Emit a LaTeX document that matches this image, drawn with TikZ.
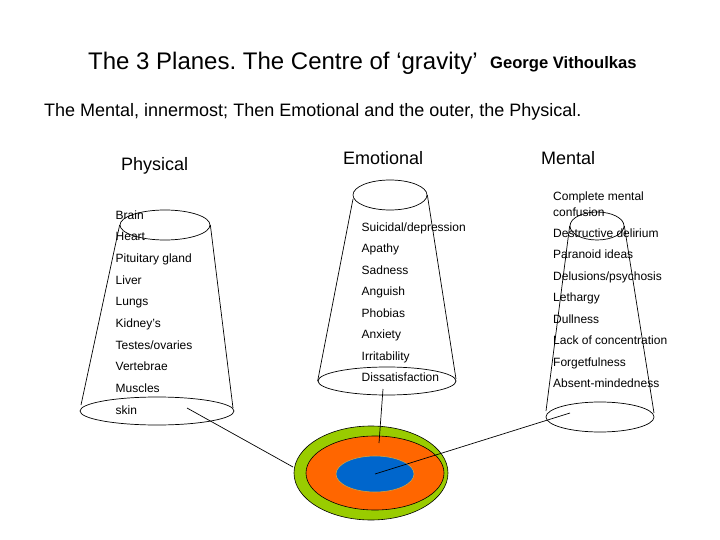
\documentclass[tikz,border=0pt]{standalone}
\usepackage{fontspec}
\setmainfont{Liberation Sans}
\usetikzlibrary{shapes.geometric}
\definecolor{ringgreen}{RGB}{153,204,0}
\definecolor{ringorange}{RGB}{255,102,0}
\definecolor{ringblue}{RGB}{0,102,204}
\definecolor{blueedge}{RGB}{214,160,60}
\frenchspacing
\begin{document}
\begin{tikzpicture}[x=1pt,y=-1pt,
  item/.style={anchor=base west,inner sep=0pt,font=\fontsize{12}{14}\selectfont},
  head/.style={anchor=base west,inner sep=0pt,font=\fontsize{18}{22}\selectfont},
  rim/.style={draw,ellipse,inner sep=0pt,line width=0.7pt},
  side/.style={line width=0.7pt},
  link/.style={line width=0.7pt}]
\useasboundingbox (0,0) rectangle (720,540);

% titles
\node[anchor=base west,inner sep=0pt,font=\fontsize{24}{28}\selectfont] (title) at (88,70) {The 3 Planes. The Centre of ‘gravity’};
\node[anchor=base west,inner sep=0pt,font=\bfseries\fontsize{16.6}{19}\selectfont] (author) at (490,69) {George Vithoulkas};
\node[anchor=base west,inner sep=0pt,font=\fontsize{18}{22}\selectfont] (sub) at (44,117) {The Mental, innermost; Then Emotional and the outer, the Physical.};

\node[head] (hphys) at (121,171) {Physical};
\node[head] (hemo) at (343,165) {Emotional};
\node[head] (hment) at (541,165) {Mental};

% centre rings
\node[ellipse,draw,fill=ringgreen,line width=0.6pt,inner sep=0pt,minimum width=154pt,minimum height=94pt] (green) at (371,473) {};
\node[ellipse,draw,fill=ringorange,line width=0.6pt,inner sep=0pt,minimum width=138pt,minimum height=74pt] (orange) at (375,473) {};
\node[ellipse,draw=blueedge,fill=ringblue,line width=0.6pt,inner sep=0pt,minimum width=78pt,minimum height=36pt] (blue) at (375,474) {};

% Physical cone
\node[rim,minimum width=90pt,minimum height=30pt] (ptop) at (165,225) {};
\node[rim,minimum width=154pt,minimum height=28pt] (pbot) at (157,411) {};
\draw[side] (ptop.west) -- (81,405);
\draw[side] (ptop.east) -- (233,408);

% Emotional cone
\node[rim,minimum width=74pt,minimum height=30pt] (etop) at (390,195) {};
\node[rim,minimum width=138pt,minimum height=28pt] (ebot) at (387,381) {};
\draw[side] (353,199) -- (ebot.west);
\draw[side] (etop.east) -- (456,379);

% Mental cone
\node[rim,minimum width=54pt,minimum height=28pt] (mtop) at (597,226) {};
\node[rim,minimum width=108pt,minimum height=30pt] (mbot) at (600,417) {};
\draw[side] (mtop.west) -- (546,411);
\draw[side] (mtop.east) -- (654,413);

% Physical list
\foreach \t [count=\i from 0] in {Brain,Heart,Pituitary gland,Liver,Lungs,Kidney{\char39}s,Testes/ovaries,Vertebrae,Muscles,skin}
  \node[item] (p\i) at (115.5,219+21.67*\i) {\t};

% Emotional list
\foreach \t [count=\i from 0] in {Suicidal/depression,Apathy,Sadness,Anguish,Phobias,Anxiety,Irritability,Dissatisfaction}
  \node[item] (e\i) at (361.5,231+21.57*\i) {\t};

% Mental list
\node[item] (m0) at (553,201) {Complete mental};
\node[item] (m0b) at (553,216) {confusion};
\foreach \t [count=\i from 1] in {Destructive delirium,Paranoid ideas,Delusions/psychosis,Lethargy,Dullness,Lack of concentration,Forgetfulness,Absent-mindedness}
  \node[item] (m\i) at (553,237+21.57*\i-21.57) {\t};

% connectors
\coordinate (pend) at (187,408);
\coordinate (gend) at (293,467);
\coordinate (eend) at (383,389);
\coordinate (oend) at (379,443);
\coordinate (mend) at (570,413);
\draw[link] (pend) -- (gend);
\draw[link] (eend) -- (oend);
\draw[link] (mend) -- (blue.center);
\end{tikzpicture}
\end{document}
